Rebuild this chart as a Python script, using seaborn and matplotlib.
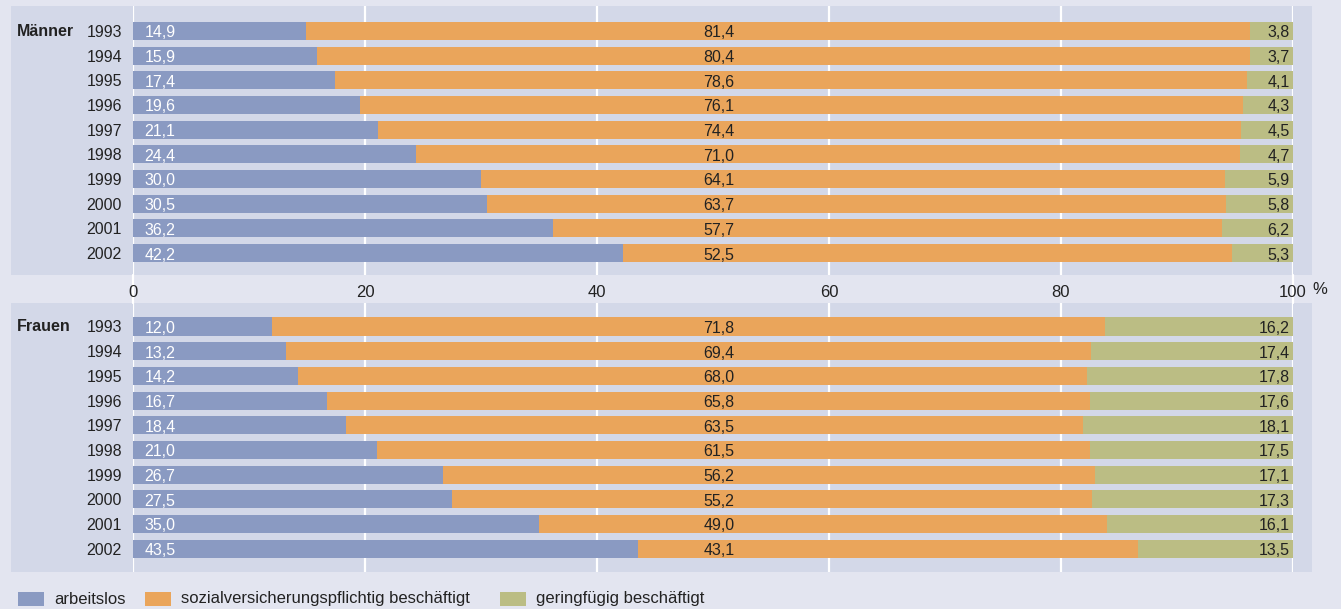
import matplotlib
matplotlib.use("Agg")
import pandas as pd
import matplotlib.pyplot as plt
import seaborn as sns
from matplotlib.patches import Rectangle
from matplotlib.lines import Line2D

# Data (Anteile in %)
years = ["1993", "1994", "1995", "1996", "1997", "1998", "1999", "2000", "2001", "2002"]
men_arbeitslos = [14.9, 15.9, 17.4, 19.6, 21.1, 24.4, 30.0, 30.5, 36.2, 42.2]
men_svp = [81.4, 80.4, 78.6, 76.1, 74.4, 71.0, 64.1, 63.7, 57.7, 52.5]
men_gering = [3.8, 3.7, 4.1, 4.3, 4.5, 4.7, 5.9, 5.8, 6.2, 5.3]
women_arbeitslos = [12.0, 13.2, 14.2, 16.7, 18.4, 21.0, 26.7, 27.5, 35.0, 43.5]
women_svp = [71.8, 69.4, 68.0, 65.8, 63.5, 61.5, 56.2, 55.2, 49.0, 43.1]
women_gering = [16.2, 17.4, 17.8, 17.6, 18.1, 17.5, 17.1, 17.3, 16.1, 13.5]
x_ticks = [0, 20, 40, 60, 80, 100]
legend_labels = ["arbeitslos", "sozialversicherungspflichtig beschäftigt", "geringfügig beschäftigt"]

BLUE = "#8a9ac2"
ORANGE = "#eaa55b"
GREEN = "#bbbd84"
BG = "#e3e5f0"
PANEL = "#d3d8e8"
TEXT = "#222222"

sns.set_theme(style="white")
plt.rcParams["font.family"] = ["Liberation Sans", "DejaVu Sans"]
plt.rcParams["text.color"] = TEXT

W, H = 1341, 609
fig = plt.figure(figsize=(W / 100, H / 100), dpi=100, facecolor=BG)


def fx(px):
    return px / W


def fy(py):
    return 1 - py / H


def fmt(v):
    return f"{v:.1f}".replace(".", ",")


def draw_panel(top, bottom, first_center, label, a, s, g, show_x):
    step = 24.67
    fig.patches.append(Rectangle((fx(11), fy(bottom)), fx(1312) - fx(11), fy(top) - fy(bottom),
                                 transform=fig.transFigure, facecolor=PANEL,
                                 edgecolor="none", zorder=-1))
    ax = fig.add_axes([fx(133), fy(bottom), fx(1293) - fx(133), fy(top) - fy(bottom)])
    ax.set_facecolor("none")

    df = pd.DataFrame({"year": years, "a": a, "s": s, "g": g})
    df["as"] = df["a"] + df["s"]
    df["total"] = df["as"] + df["g"]

    # stacked by overlaying cumulative totals
    for col, c in [("total", GREEN), ("as", ORANGE), ("a", BLUE)]:
        sns.barplot(data=df, x=col, y="year", orient="h", color=c, width=0.73,
                    saturation=1, linewidth=0, ax=ax, zorder=2)

    for v in x_ticks:
        ax.axvline(v, color="white", lw=1.6, zorder=0)

    for i, row in df.iterrows():
        ax.text(1.0, i + 0.08, fmt(row["a"]), color="white", ha="left", va="center", fontsize=11.5, zorder=3)
        ax.text(50.5, i + 0.08, fmt(row["s"]), ha="center", va="center", fontsize=11.5, zorder=3)
        ax.text(99.7, i + 0.08, fmt(row["g"]), ha="right", va="center", fontsize=11.5, zorder=3)

    ax.text(-10.0, 0, label, ha="left", va="center", fontsize=11.5, fontweight="bold")

    ax.set_xlim(0, 100)
    ax.set_ylim((bottom - first_center) / step, (top - first_center) / step)
    ax.set_xlabel("")
    ax.set_ylabel("")
    ax.set_xticks(x_ticks)
    if show_x:
        ax.set_xticklabels([str(t) for t in x_ticks])
    else:
        ax.set_xticklabels([])
    ax.tick_params(axis="x", length=0, pad=7, labelsize=12, colors=TEXT)
    ax.tick_params(axis="y", length=0, pad=8, labelsize=11.5, colors=TEXT)
    for sp in ax.spines.values():
        sp.set_visible(False)
    return ax


ax1 = draw_panel(6, 275, 31, "Männer", men_arbeitslos, men_svp, men_gering, True)
ax2 = draw_panel(303, 572, 326.5, "Frauen", women_arbeitslos, women_svp, women_gering, False)

# 0 and 100 lines run through the gap between the panels
for px in (133, 1293):
    fig.add_artist(Line2D([fx(px), fx(px)], [fy(275), fy(303)], transform=fig.transFigure,
                          color="white", lw=1.6, zorder=-0.5))

fig.text(fx(1312), fy(290), "%", ha="left", va="center", fontsize=12)

# legend
for x0, col, lab in zip([18, 145, 500], [BLUE, ORANGE, GREEN], legend_labels):
    fig.patches.append(Rectangle((fx(x0), fy(606)), fx(26), 14 / H, transform=fig.transFigure,
                                 facecolor=col, edgecolor="none"))
    fig.text(fx(x0 + 36), fy(599), lab, ha="left", va="center", fontsize=12)

fig.savefig("out.png", dpi=100, facecolor=BG)
